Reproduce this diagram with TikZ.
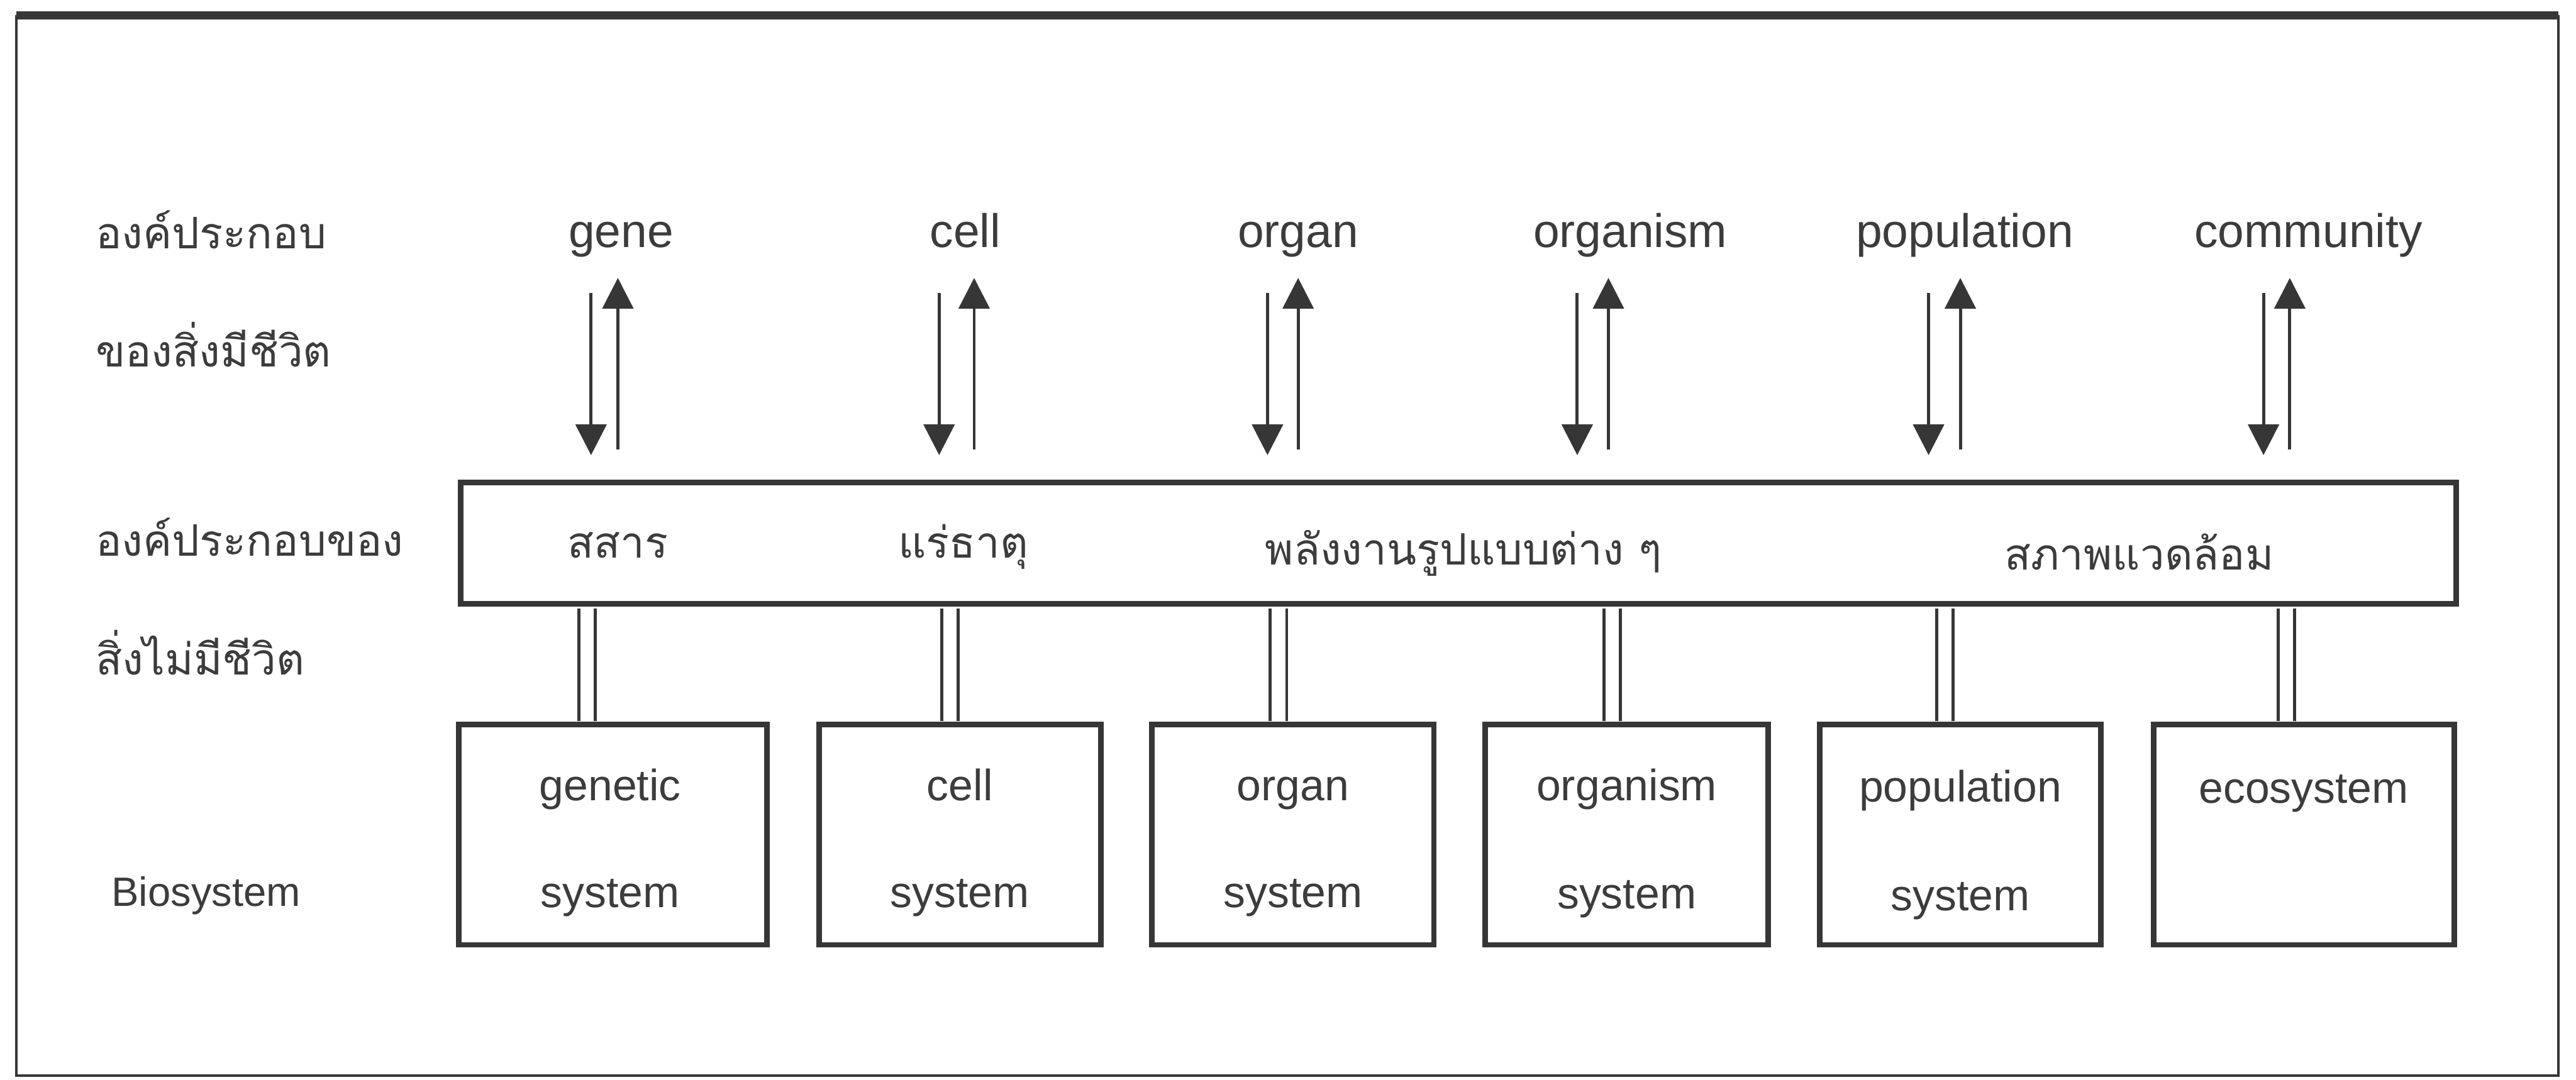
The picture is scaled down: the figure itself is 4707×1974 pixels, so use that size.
\documentclass[tikz,border=0pt]{standalone}
\usepackage{fontspec}
\setmainfont{Liberation Sans}
\newfontfamily\thaifont[Script=Thai]{Loma}
\usetikzlibrary{arrows.meta}
\definecolor{ink}{HTML}{363636}
\definecolor{txt}{HTML}{3C3C3C}
\begin{document}
\begin{tikzpicture}[x=0.01cm,y=-0.01cm,
  frameline/.style={ink, line width=1.2pt},
  frametop/.style={ink, line width=4.2pt},
  boxline/.style={draw=ink, line width=2.9pt, rectangle, inner sep=0pt},
  sysbox/.style={boxline, minimum height=4.02cm},
  toplbl/.style={txt, font=\fontsize{24.5pt}{26pt}\selectfont, anchor=base, inner sep=0pt},
  syslbl/.style={txt, font=\fontsize{22.8pt}{24pt}\selectfont, anchor=base, inner sep=0pt},
  biolbl/.style={txt, font=\fontsize{21.3pt}{24pt}\selectfont, anchor=base west, inner sep=0pt},
  thai/.style={txt, font=\thaifont\fontsize{22.5pt}{25pt}\selectfont, anchor=base, inner sep=0pt},
  thaileft/.style={txt, font=\thaifont\fontsize{22.6pt}{25pt}\selectfont, anchor=base west, inner sep=0pt},
  arr/.style={ink, line width=1.6pt, -{Triangle[length=16pt,width=16pt]}},
  link/.style={ink, line width=1.5pt, double=white, double distance=7pt},
]
\useasboundingbox (0,0) rectangle (4707,1974);

% outer frame
\coordinate (fTL) at (30,28);
\coordinate (fTR) at (4675,28);
\coordinate (fBL) at (30,1966);
\coordinate (fBR) at (4675,1966);
\draw[frameline] (fTL) -- (fBL) -- (fBR) -- (fTR);
\draw[frametop] (fTL) -- (fTR);

% left row labels
\node[thaileft] (l1) at (174,454) {องค์ประกอบ};
\node[thaileft] (l2) at (174,671) {ของสิ่งมีชีวิต};
\node[thaileft] (l3) at (174,1016) {องค์ประกอบของ};
\node[thaileft] (l4) at (174,1234) {สิ่งไม่มีชีวิต};
\node[biolbl] (l5) at (203,1657) {Biosystem};

% top labels (living components)
\node[toplbl] (gene) at (1135,452) {gene};
\node[toplbl] (cell) at (1764,452) {cell};
\node[toplbl] (organ) at (2372,452) {organ};
\node[toplbl] (organism) at (2979,452) {organism};
\node[toplbl] (population) at (3590,452) {population};
\node[toplbl] (community) at (4218,452) {community};

% arrows
\foreach \n/\xd/\xu in {gene/1080/1129, cell/1716/1780, organ/2316/2372,
                        organism/2882/2939, population/3524/3582, community/4136/4184} {
  \coordinate (\n-dtop) at (\xd,535);
  \coordinate (\n-dbot) at (\xd,832);
  \coordinate (\n-utop) at (\xu,508);
  \coordinate (\n-ubot) at (\xu,822);
  \draw[arr] (\n-dtop) -- (\n-dbot);
  \draw[arr] (\n-ubot) -- (\n-utop);
}

% non-living components box
\node[boxline, minimum width=36.44cm, minimum height=2.22cm] (abio) at (2665,993) {};
\node[thai] (a1) at (1129,1020) {สสาร};
\node[thai] (a2) at (1760,1020) {แร่ธาตุ};
\node[thai] (a3) at (2674,1032) {พลังงานรูปแบบต่าง ๆ};
\node[thai] (a4) at (3909,1042) {สภาพแวดล้อม};

% double links
\foreach \n/\x in {k1/1073, k2/1736, k3/2336, k4/2946, k5/3554, k6/4178} {
  \coordinate (\n-top) at (\x,1112);
  \coordinate (\n-bot) at (\x,1318);
  \draw[link] (\n-top) -- (\n-bot);
}

% biosystem boxes
\node[sysbox, minimum width=5.63cm] (b1) at (1119.5,1526) {};
\node[sysbox, minimum width=5.14cm] (b2) at (1754,1526) {};
\node[sysbox, minimum width=5.15cm] (b3) at (2362.5,1526) {};
\node[sysbox, minimum width=5.17cm] (b4) at (2972.5,1526) {};
\node[sysbox, minimum width=5.14cm] (b5) at (3582,1526) {};
\node[sysbox, minimum width=5.49cm] (b6) at (4209.5,1526) {};

\node[syslbl] (b1a) at (1115,1464) {genetic};
\node[syslbl] (b1b) at (1115,1659) {system};
\node[syslbl] (b2a) at (1754,1464) {cell};
\node[syslbl] (b2b) at (1754,1659) {system};
\node[syslbl] (b3a) at (2362.5,1464) {organ};
\node[syslbl] (b3b) at (2362.5,1659) {system};
\node[syslbl] (b4a) at (2972.5,1464) {organism};
\node[syslbl] (b4b) at (2972.5,1661) {system};
\node[syslbl] (b5a) at (3582,1466) {population};
\node[syslbl] (b5b) at (3582,1664) {system};
\node[syslbl] (b6a) at (4209.5,1468) {ecosystem};
\end{tikzpicture}
\end{document}
